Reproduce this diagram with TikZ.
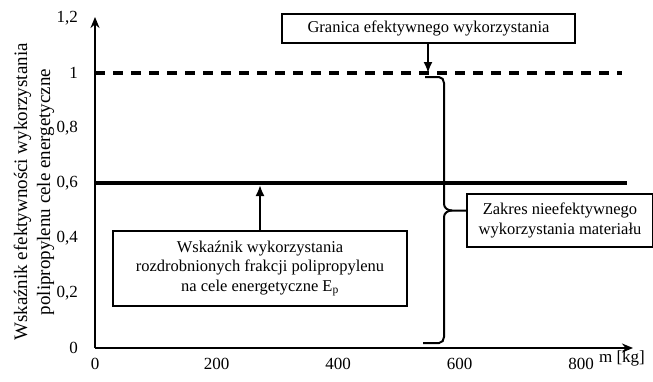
\documentclass[tikz,border=0pt]{standalone}
\usepackage{fontspec}
\setmainfont{Liberation Serif}
\usetikzlibrary{positioning, arrows.meta, calc}

\begin{document}
\begin{tikzpicture}[x=1pt,y=-1pt,
axis/.style={line width=2pt,-{Stealth[length=11pt,width=9pt]}},
pointer/.style={line width=2pt,-{Latex[length=11pt,width=9pt]}},
labelbox/.style={draw,line width=1.8pt,align=center,inner sep=0pt,
  font=\fontsize{16.5}{19.5}\selectfont},
ticklabel/.style={font=\fontsize{17}{20}\selectfont,inner sep=1pt}]
\useasboundingbox (0,0) rectangle (653,381);
% axes
\coordinate (O) at (95,348);
\draw[axis] (O) -- (95,17);
\draw[axis] (O) -- (633,348);
\foreach \v/\t in {0/0,0.2/{0,2},0.4/{0,4},0.6/{0,6},0.8/{0,8},1/1,1.2/{1,2}}
  \node[ticklabel,anchor=east] at (79,348-275*\v) {\t};
\foreach \k in {0,1,2,3,4}
  \node[ticklabel] at (95+121.5*\k,364) {\pgfmathparse{int(200*\k)}\pgfmathresult};
\node[ticklabel] (unit) at (622,358) {m [kg]};
\node[rotate=90,align=center,font=\fontsize{19}{23}\selectfont] (ylab) at (34,192)
  {Wskaźnik efektywności wykorzystania\\polipropylenu cele energetyczne};
% levels
\draw[line width=3.5pt,dash pattern=on 10pt off 8pt] (95,73) -- (622,73);
\draw[line width=4pt] (95,183) -- (627,183);
% boxes
\node[labelbox,minimum width=293pt,minimum height=29pt] (gran) at (428.5,28.5)
  {Granica efektywnego wykorzystania};
\node[labelbox,minimum width=294pt,minimum height=75pt] (wsk) at (260,268.5)
  {Wskaźnik wykorzystania\\rozdrobnionych frakcji polipropylenu\\na cele energetyczne E\textsubscript{p}};
\node[labelbox,minimum width=186pt,minimum height=53pt] (zakres) at (560,220.5)
  {Zakres nieefektywnego\\wykorzystania materiału};
\coordinate (lim) at (428,73);
\coordinate (ep) at (260,185);
\draw[pointer] (gran.south -| lim) -- (lim);
\draw[pointer] (wsk.north) -- (ep);
% brace
\coordinate (tip) at (zakres.west |- 0,210.5);
\draw[line width=2pt] (425,77) -- (439,77) to[out=0,in=90] (444,83) -- (444,204)
  to[out=-90,in=180] (452,210.5) -- (tip);
\draw[line width=2pt] (452,210.5) to[out=180,in=90] (444,217) -- (444,337)
  to[out=-90,in=0] (439,343) -- (423,343);
\end{tikzpicture}
\end{document}
